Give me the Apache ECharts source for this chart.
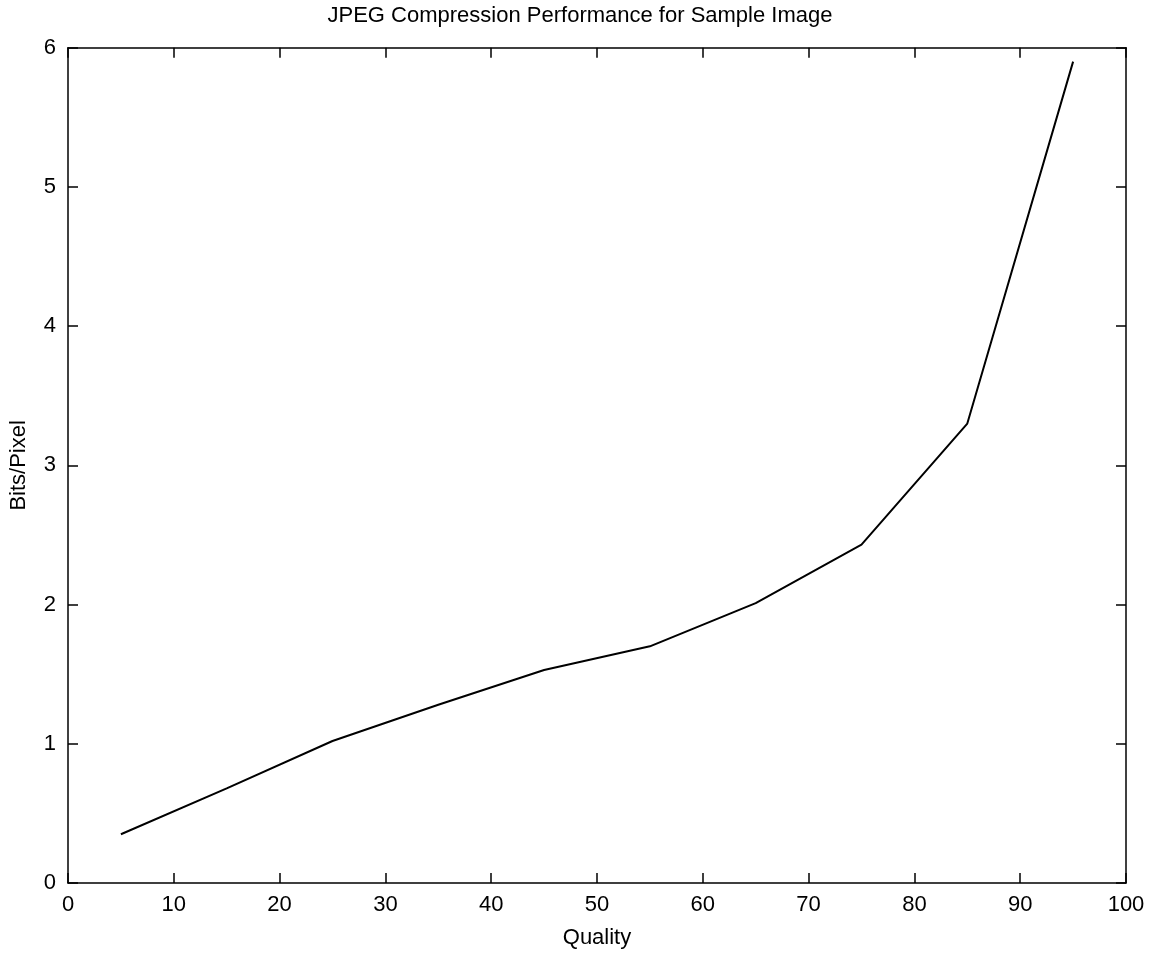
<!DOCTYPE html>
<html>
<head>
<meta charset="utf-8">
<script src="https://cdn.jsdelivr.net/npm/echarts@6/dist/echarts.min.js"></script>
<style>
html,body{margin:0;padding:0;background:#fff;}
#chart{width:1160px;height:954px;}
</style>
</head>
<body>
<div id="chart"></div>
<script>
const quality = [5, 15, 25, 35, 45, 55, 65, 75, 85, 95];
const bitsPerPixel = [0.35, 0.68, 1.02, 1.28, 1.53, 1.70, 2.01, 2.43, 3.30, 5.90];
const titleText = 'JPEG Compression Performance for Sample Image';
const xName = 'Quality';
const yName = 'Bits/Pixel';

const FONT = '"Liberation Sans", Arial, Helvetica, sans-serif';
const axisLine = { show: true, onZero: false, lineStyle: { color: '#000', width: 1.5 } };
const axisTick = { show: true, inside: true, length: 10, lineStyle: { color: '#000', width: 1.5 } };
const labelStyle = { color: '#000', fontSize: 22, fontFamily: FONT };

const chart = echarts.init(document.getElementById('chart'), null, { renderer: 'canvas' });
chart.setOption({
  animation: false,
  backgroundColor: '#fff',
  title: {
    text: titleText,
    left: 'center',
    top: 0,
    textStyle: { color: '#000', fontSize: 22, fontWeight: 'normal', fontFamily: FONT }
  },
  grid: { left: 63.5, right: 34, top: 47.7, bottom: 69 },
  xAxis: [
    {
      type: 'value', min: 0, max: 100, interval: 10, position: 'bottom',
      name: xName, nameLocation: 'middle', nameGap: 44,
      nameTextStyle: { color: '#000', fontSize: 22, fontFamily: FONT },
      axisLine, axisTick, splitLine: { show: false },
      axisLabel: Object.assign({ margin: 11 }, labelStyle)
    },
    {
      type: 'value', min: 0, max: 100, interval: 10, position: 'top',
      axisLine, axisTick, splitLine: { show: false }, axisLabel: { show: false }
    }
  ],
  yAxis: [
    {
      type: 'value', min: 0, max: 6, interval: 1, position: 'left',
      name: yName, nameLocation: 'middle', nameGap: 38,
      nameTextStyle: { color: '#000', fontSize: 22, fontFamily: FONT },
      axisLine, axisTick, splitLine: { show: false },
      axisLabel: Object.assign({ margin: 12 }, labelStyle)
    },
    {
      type: 'value', min: 0, max: 6, interval: 1, position: 'right',
      axisLine, axisTick, splitLine: { show: false }, axisLabel: { show: false }
    }
  ],
  series: [
    {
      type: 'line',
      xAxisIndex: 0, yAxisIndex: 0,
      data: quality.map((q, i) => [q, bitsPerPixel[i]]),
      showSymbol: false, symbol: 'none',
      lineStyle: { color: '#000', width: 2 },
      itemStyle: { color: '#000' }
    }
  ]
});
</script>
</body>
</html>
